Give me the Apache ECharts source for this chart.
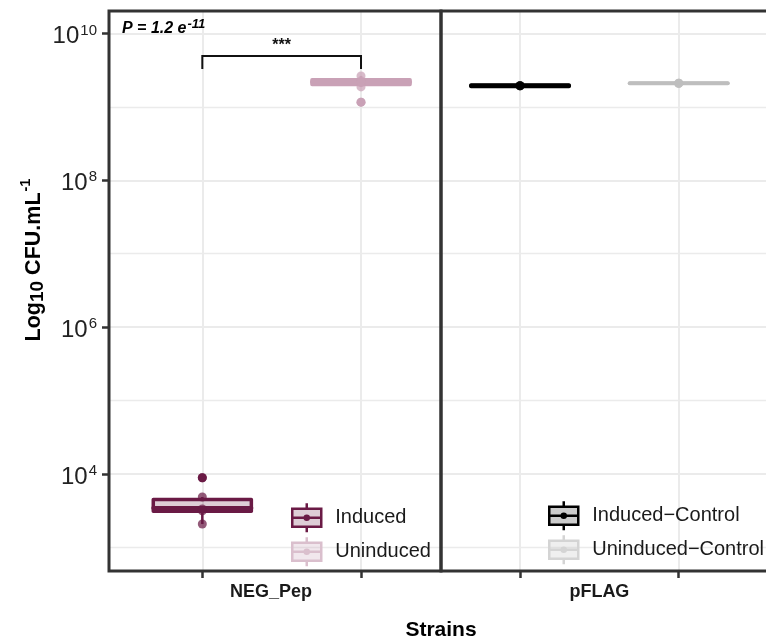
<!DOCTYPE html>
<html><head><meta charset="utf-8">
<script src="https://cdn.jsdelivr.net/npm/echarts@6/dist/echarts.min.js"></script>
<style>html,body{margin:0;padding:0;background:#fff}#c{width:766px;height:642px}</style>
</head><body><div id="c"></div>
<script>
const FONT = '"Liberation Sans", Arial, Helvetica, sans-serif';
const panels = ['NEG_Pep', 'pFLAG'];
const panelLabelPos = [1.433, 1.5];
const seriesNames = ['Induced', 'Uninduced', 'Induced\u2212Control', 'Uninduced\u2212Control'];
const seriesColors = ['#6A1A45', '#C9A1B6', '#000000', '#BEBEBE'];
const fillColors = ['rgba(106,26,69,0.22)', 'rgba(201,161,182,0.25)', 'rgba(0,0,0,0.2)', 'rgba(190,190,190,0.25)'];
const legendColors = ['#6A1A45', '#DABFCD', '#000000', '#D4D4D4'];
const seriesPanel = [0, 0, 1, 1];
const seriesX = [1, 2, 1, 2];
// boxplot stats, CFU/mL: [lower whisker, Q1, median, Q3, upper whisker]
const inducedBox = [2080, 3110, 3440, 4490, 4850];
const uninducedBox = [1.87e9, 2.02e9, 2.18e9, 2.34e9, 2.64e9];
const inducedControlBox = [1.90e9, 1.90e9, 1.94e9, 1.98e9, 1.98e9];
const uninducedControlBox = [2.10e9, 2.10e9, 2.10e9, 2.10e9, 2.10e9];
const inducedOutliers = [8900];
const uninducedOutliers = [1.16e9];
const inducedPoints = [8900, 4850, 3330, 3150, 2080];
const uninducedPoints = [2.64e9, 2.25e9, 2.15e9, 1.87e9, 1.16e9];
const inducedControlPoints = [1.94e9, 1.94e9, 1.94e9];
const uninducedControlPoints = [2.10e9, 2.10e9, 2.10e9];
const yTickValues = [1e4, 1e6, 1e8, 1e10];
const yMinorValues = [1e3, 1e5, 1e7, 1e9];
const yRange = [477, 2.023e10];
const xRanges = [[0.412, 2.504], [0.502, 2.594]];
const xTicks = [1, 2];
const bracket = { from: 1, to: 2, legBottom: 3.28e9, top: 4.94e9, label: '***' };
const pLabel = { text: 'P = 1.2 e', exp: '-11' };

const L = v => Math.log10(v);
const boxes = [inducedBox, uninducedBox, inducedControlBox, uninducedControlBox];
const points = [inducedPoints, uninducedPoints, inducedControlPoints, uninducedControlPoints];
const outliers = [inducedOutliers, uninducedOutliers, [], []];
const BOX_HALF = 0.309;
const GRID_COL = '#EBEBEB';
const FRAME = '#333333';

const grids = [0, 1].map(p => ({
  left: p === 0 ? 109 : 441, top: 11, width: 332, height: 560,
  show: true, borderColor: FRAME, borderWidth: 3, backgroundColor: 'transparent',
  z: 10, outerBoundsMode: 'none', containLabel: false
}));

const xAxes = [0, 1].map(p => ({
  type: 'value', gridIndex: p, min: xRanges[p][0], max: xRanges[p][1],
  axisLine: { show: false },
  axisTick: { show: true, customValues: xTicks, length: 7, lineStyle: { color: FRAME, width: 2.5 } },
  axisLabel: { customValues: [panelLabelPos[p]], formatter: () => panels[p], fontSize: 18, fontWeight: 'bold',
    color: '#1a1a1a', fontFamily: FONT, margin: 12 },
  splitLine: { show: true, lineStyle: { color: GRID_COL, width: 2 } }
}));

const yAxes = [];
[0, 1].forEach(p => {
  yAxes.push({
    type: 'value', gridIndex: p, min: L(yRange[0]), max: L(yRange[1]), position: 'left',
    axisLine: { show: false },
    axisTick: { show: p === 0, customValues: yTickValues.map(L), length: 7, lineStyle: { color: FRAME, width: 2.5 } },
    axisLabel: {
      show: p === 0, customValues: yTickValues.map(L), margin: 12,
      formatter: v => '{b|10}{s|' + Math.round(v) + '}',
      rich: {
        b: { fontSize: 24, color: '#222', fontFamily: FONT, padding: [6, 0, 0, 0] },
        s: { fontSize: 15, color: '#222', fontFamily: FONT, padding: [0, 0, 6, 1] }
      }
    },
    splitLine: { show: true, lineStyle: { color: GRID_COL, width: 2 } }
  });
  yAxes.push({
    type: 'value', gridIndex: p, min: L(yRange[0]), max: L(yRange[1]), position: 'right',
    axisLine: { show: false },
    axisTick: { show: false, customValues: yMinorValues.map(L) },
    axisLabel: { show: false },
    splitLine: { show: true, lineStyle: { color: GRID_COL, width: 1.3 } }
  });
});

function boxSeries(i) {
  const color = seriesColors[i];
  return {
    type: 'custom', name: seriesNames[i], xAxisIndex: seriesPanel[i], yAxisIndex: seriesPanel[i] * 2,
    z: 3, silent: true,
    data: [[seriesX[i]].concat(boxes[i].map(L))],
    renderItem(params, api) {
      const x = api.value(0);
      const lo = api.coord([x, api.value(1)]), q1 = api.coord([x, api.value(2)]),
            md = api.coord([x, api.value(3)]), q3 = api.coord([x, api.value(4)]),
            hi = api.coord([x, api.value(5)]);
      const xl = api.coord([x - BOX_HALF, api.value(3)])[0], xr = api.coord([x + BOX_HALF, api.value(3)])[0];
      return { type: 'group', children: [
        { type: 'line', shape: { x1: lo[0], y1: lo[1], x2: q1[0], y2: q1[1] }, style: { stroke: color, lineWidth: 2.5 } },
        { type: 'line', shape: { x1: q3[0], y1: q3[1], x2: hi[0], y2: hi[1] }, style: { stroke: color, lineWidth: 2.5 } },
        { type: 'rect', shape: { x: xl, y: q3[1], width: xr - xl, height: q1[1] - q3[1] },
          style: { fill: fillColors[i], stroke: color, lineWidth: 3.5, lineJoin: 'round' } },
        { type: 'line', shape: { x1: xl, y1: md[1], x2: xr, y2: md[1] }, style: { stroke: color, lineWidth: 4, lineCap: 'round' } }
      ] };
    }
  };
}

function pointSeries(i) {
  return {
    type: 'scatter', name: seriesNames[i], xAxisIndex: seriesPanel[i], yAxisIndex: seriesPanel[i] * 2,
    z: 4, silent: true, symbolSize: 9,
    itemStyle: { color: seriesColors[i], opacity: 0.72 },
    data: points[i].map(v => [seriesX[i], L(v)])
  };
}

function outlierSeries(i) {
  return {
    type: 'scatter', name: seriesNames[i], xAxisIndex: seriesPanel[i], yAxisIndex: seriesPanel[i] * 2,
    z: 5, silent: true, symbolSize: 9,
    itemStyle: { color: seriesColors[i], opacity: 1 },
    data: outliers[i].map(v => [seriesX[i], L(v)])
  };
}

const series = [];
[0, 1, 2, 3].forEach(i => { series.push(boxSeries(i)); series.push(pointSeries(i)); series.push(outlierSeries(i)); });
series.push({
  type: 'custom', name: 'bracket', xAxisIndex: 0, yAxisIndex: 0, z: 6, silent: true,
  data: [[bracket.from, bracket.to, L(bracket.legBottom), L(bracket.top)]],
  renderItem(params, api) {
    const a = api.coord([api.value(0), api.value(2)]), b = api.coord([api.value(0), api.value(3)]);
    const c = api.coord([api.value(1), api.value(3)]), d = api.coord([api.value(1), api.value(2)]);
    const m = api.coord([(api.value(0) + api.value(1)) / 2, api.value(3)]);
    return { type: 'group', children: [
      { type: 'polyline', shape: { points: [a, b, c, d] }, style: { stroke: '#111', lineWidth: 2, fill: null } },
      { type: 'text', x: m[0], y: m[1] - 2, style: { text: bracket.label, fontSize: 16, fontWeight: 'bold',
        fontFamily: FONT, fill: '#111', align: 'center', verticalAlign: 'bottom' } }
    ] };
  }
});

const glyph = 'path://M0,5.5 L29,5.5 L29,23.5 L0,23.5 Z M0,14.5 L29,14.5 M14.5,0 L14.5,5.5 M14.5,23.5 L14.5,29 M12.5,14.5 A2,2 0 1 0 16.5,14.5 A2,2 0 1 0 12.5,14.5 Z';
function legendItem(i) {
  return { name: seriesNames[i], icon: glyph,
    itemStyle: { color: fillColors[i], borderColor: legendColors[i], borderWidth: 2.5, opacity: 1 } };
}
const legendText = { fontSize: 20, color: '#1a1a1a', fontFamily: FONT, padding: [0, 0, 0, 9] };

const option = {
  animation: false,
  backgroundColor: '#fff',
  grid: grids,
  xAxis: xAxes,
  yAxis: yAxes,
  legend: [
    { left: 291, top: 502, padding: 0, orient: 'vertical', itemWidth: 29, itemHeight: 29, itemGap: 2.5, selectedMode: false,
      data: [legendItem(0), legendItem(1)], textStyle: legendText },
    { left: 548, top: 500, padding: 0, orient: 'vertical', itemWidth: 29, itemHeight: 29, itemGap: 2.5, selectedMode: false,
      data: [legendItem(2), legendItem(3)], textStyle: legendText }
  ],
  graphic: [
    { type: 'text', x: 34, y: 260, rotation: Math.PI / 2, silent: true,
      style: { text: '{a|Log}{sub|10}{a| CFU.mL}{sup|-1}', align: 'center', verticalAlign: 'middle',
        rich: {
          a: { fontSize: 21.5, fontWeight: 'bold', fontFamily: FONT, fill: '#000' },
          sub: { fontSize: 19, fontWeight: 'bold', fontFamily: FONT, fill: '#000', padding: [8, 0, 0, 0] },
          sup: { fontSize: 14.5, fontWeight: 'bold', fontFamily: FONT, fill: '#000', padding: [0, 0, 16, 1] }
        } } },
    { type: 'text', x: 441, y: 630, silent: true,
      style: { text: 'Strains', fontSize: 21, fontWeight: 'bold', fontFamily: FONT, fill: '#000', align: 'center', verticalAlign: 'middle' } },
    { type: 'text', x: 122, y: 29, silent: true, z: 20,
      style: { text: '{p|' + pLabel.text + '}{s|' + pLabel.exp + '}', align: 'left', verticalAlign: 'middle',
        rich: {
          p: { fontSize: 16, fontWeight: 'bold', fontStyle: 'italic', fontFamily: FONT, fill: '#000' },
          s: { fontSize: 13, fontWeight: 'bold', fontStyle: 'italic', fontFamily: FONT, fill: '#000', padding: [0, 0, 10, 1] }
        } } }
  ],
  series: series
};

const chart = echarts.init(document.getElementById('c'), null, { renderer: 'canvas' });
chart.setOption(option);
</script>
</body></html>
